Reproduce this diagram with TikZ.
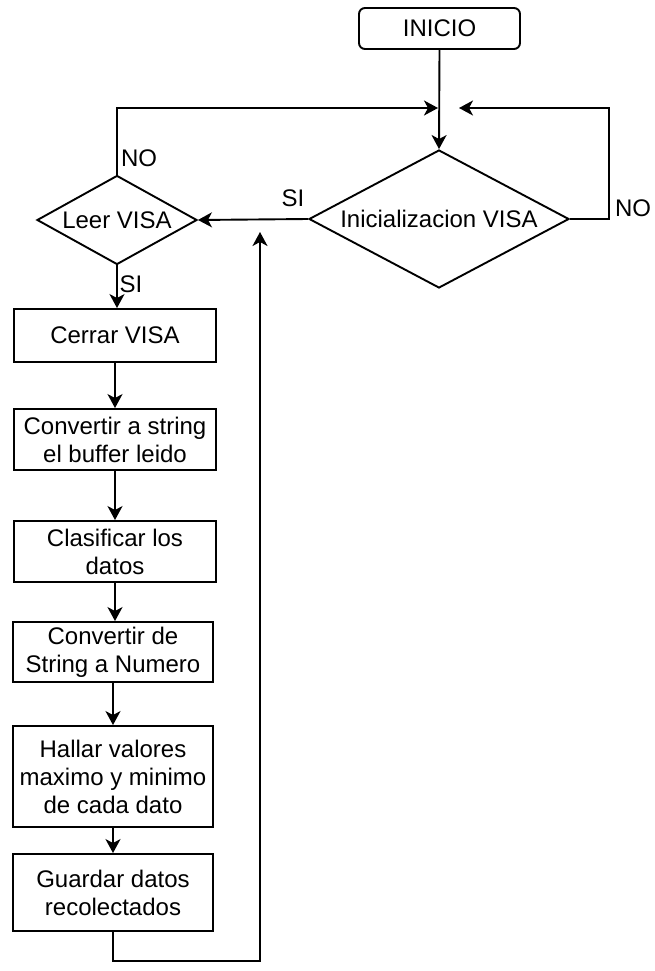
\documentclass[tikz,border=0pt]{standalone}
\usepackage{fontspec}
\setmainfont{Liberation Sans}
\usetikzlibrary{shapes.geometric,arrows.meta}
\begin{document}
\begin{tikzpicture}[x=1pt,y=-1pt,
  font=\fontsize{24}{28}\selectfont,
  line width=1.9pt,
  arr/.style={-{Stealth[length=14pt,width=15pt,inset=4pt]}},
  stepbox/.style={draw,rectangle,align=center,inner sep=1pt},
  startbox/.style={draw,rectangle,rounded corners=6pt,minimum width=161pt,minimum height=41pt,inner sep=0pt},
  decision/.style={draw,diamond,inner sep=0pt},
  txt/.style={inner sep=0pt,align=center},
  lbl/.style={inner sep=0pt}]
\useasboundingbox (0,0) rectangle (654,971);

% start terminal
\node[startbox] (inicio) at (439.5,28.5) {INICIO};

% decisions
\node[decision,minimum width=260pt,minimum height=138pt] (init) at (439,219) {};
\node[txt] (initt) at (init.center) {Inicializacion VISA};
\node[decision,minimum width=160pt,minimum height=89pt] (leer) at (117,220) {};
\node[txt] (leert) at (leer.center) {Leer VISA};

% process steps
\node[stepbox,minimum width=202pt,minimum height=53pt] (cerrar) at (115,335.5) {Cerrar VISA};
\node[stepbox,minimum width=202pt,minimum height=61pt] (conv1) at (115,439.5) {Convertir a string\\el buffer leido};
\node[stepbox,minimum width=202pt,minimum height=61pt] (clas) at (115,551.5) {Clasificar los\\datos};
\node[stepbox,minimum width=200pt,minimum height=60pt] (conv2) at (113,652) {Convertir de\\String a Numero};
\node[stepbox,minimum width=200pt,minimum height=101pt] (hallar) at (113,776.5) {Hallar valores\\maximo y minimo\\de cada dato};
\node[stepbox,minimum width=200pt,minimum height=77pt] (guardar) at (113,892.5) {Guardar datos\\recolectados};

% junction points
\coordinate (jl) at (438,108);
\coordinate (jr) at (459,108);
\coordinate (nr) at (609,219);
\coordinate (ret) at (260,232);

% connectors
\draw[arr] (inicio.south) -- (init.north);
\draw[arr] (init.west) -- (leer.east);
\draw[arr] (init.east) -- (nr) |- (jr);
\draw[arr] (leer.north) |- (jl);
\draw[arr] (leer.south) -- (leer.south |- cerrar.north);
\draw[arr] (cerrar) -- (conv1);
\draw[arr] (conv1) -- (clas);
\draw[arr] (clas.south) -- (clas.south |- conv2.north);
\draw[arr] (conv2) -- (hallar);
\draw[arr] (hallar) -- (guardar);
\draw[arr] (guardar.south) -- ++(0,29) -| (ret);

% branch labels
\node[lbl] (no1) at (633,208) {NO};
\node[lbl] (no2) at (139,158) {NO};
\node[lbl] (si1) at (293,198) {SI};
\node[lbl] (si2) at (131,284) {SI};
\end{tikzpicture}
\end{document}
